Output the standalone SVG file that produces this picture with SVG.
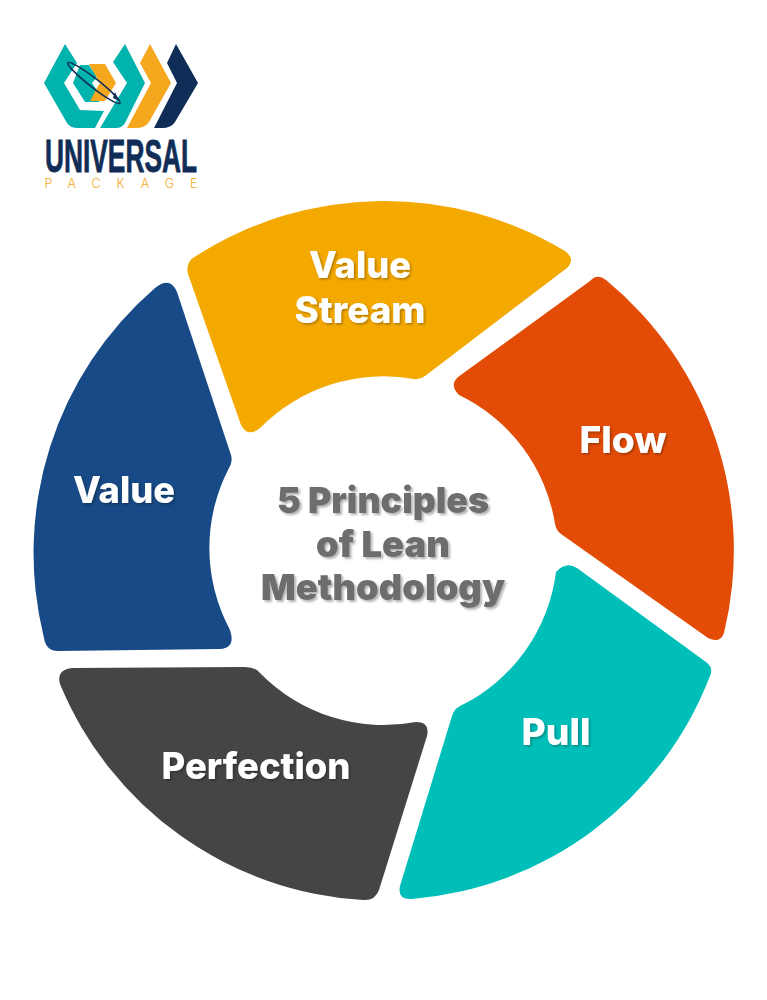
<svg xmlns="http://www.w3.org/2000/svg" width="767" height="1000" viewBox="0 0 767 1000">
<style>
.l{font-family:Inter,"Liberation Sans",sans-serif;font-weight:800;font-size:37px;fill:#fff;text-anchor:middle;filter:url(#s)}
.c{font-family:Inter,"Liberation Sans",sans-serif;font-weight:900;font-size:36px;fill:#6d6d6d;text-anchor:middle;filter:url(#s2)}
.t{fill:#00b3ad}.a{fill:#f5a81e}.n{fill:#0f2d56}
</style>
<defs>
<filter id="s" x="-20%" y="-30%" width="140%" height="160%"><feDropShadow dx="1.5" dy="1.5" stdDeviation="1" flood-color="#000" flood-opacity=".3"/></filter>
<filter id="s2" x="-20%" y="-30%" width="140%" height="160%"><feDropShadow dx="2" dy="2" stdDeviation="1.2" flood-color="#000" flood-opacity=".3"/></filter>
</defs>
<rect width="767" height="1000" fill="#fff"/>
<g id="logo">
<path class="t" d="M65 44 L44 83 L67 123 Q70 128 78 128 L95 128 L104 111 L80 110 L64 83 L77 63Z"/>
<path class="t" d="M125 44 L145 83 L125 123 Q122 128 116 128 L100 128 L127 83 L113 62Z"/>
<path class="t" d="M80 65 L89 65 L97 77 L92 83 L98 92 L99 102 L85 102 L73 83Z"/>
<path class="a" d="M89 64 L105 64 L116 83 L105 101 L90 101 L98 86 L100 83Z"/>
<path class="a" d="M150 44 L171 83 L149 122 Q145 128 136 128 L127 128 L151 83 L140 63Z"/>
<path class="n" d="M176 44 L198 83 L175 122 Q171 128 162 128 L154 128 L177 83 L167 63Z"/>
<ellipse cx="94" cy="83" rx="33" ry="4.5" transform="rotate(38 94 83)" fill="none" stroke="#0f2d56" stroke-width="1.6"/>
<path class="n" d="M115 92 L119 101 L113 98Z"/>
<text x="121" y="172" font-family="Liberation Sans Narrow,Liberation Sans,sans-serif" font-weight="700" font-size="47" fill="#0f2d56" stroke="#0f2d56" stroke-width=".8" text-anchor="middle" textLength="152" lengthAdjust="spacingAndGlyphs">UNIVERSAL</text>
<text x="121" y="188" font-family="Inter,sans-serif" font-weight="300" font-size="12.5" fill="#f5a81e" text-anchor="middle" textLength="153">PACKAGE</text>
</g>
<g id="value-stream">
<path fill="#f4a900" d="M196 256 A350 350 0 0 1 565 251 Q576 259 567 268 L425 376 Q420 380 414 379 A173 173 0 0 0 260 428 Q248 438 241 425 L188 274 Q185 262 196 256Z"/>
<text class="l" x="360" y="278" textLength="102" lengthAdjust="spacingAndGlyphs">Value</text><text class="l" x="360" y="323" textLength="131" lengthAdjust="spacingAndGlyphs">Stream</text>
</g>
<g id="flow">
<path fill="#e34c07" d="M590 281 Q597 273 606 280 A350 350 0 0 1 724 633 Q720 644 708 638 L561 534 Q556 530 555 524 A173 173 0 0 0 459 395 Q449 385 458 377Z"/>
<text class="l" x="623" y="453" textLength="87" lengthAdjust="spacingAndGlyphs">Flow</text>
</g>
<g id="pull">
<path fill="#00bfb8" d="M556 572 Q566 561 577 568 L706 662 Q714 668 710 676 A350 350 0 0 1 412 899 Q397 900 400 886 L452 716 Q454 709 460 706 A173 173 0 0 0 556 572Z"/>
<text class="l" x="556" y="745" textLength="69" lengthAdjust="spacingAndGlyphs">Pull</text>
</g>
<g id="perfection">
<path fill="#454545" d="M72 668 L245 667 Q255 667 260 673 A173 173 0 0 0 416 722 Q430 722 427 736 L379 890 Q375 901 363 900 A350 350 0 0 1 60 684 Q56 670 72 668Z"/>
<text class="l" x="256" y="779" textLength="189" lengthAdjust="spacingAndGlyphs">Perfection</text>
</g>
<g id="value">
<path fill="#174a86" d="M155 288 Q170 276 177 292 L231 455 Q233 462 229 468 A173 173 0 0 0 230 630 Q236 648 220 649 L58 651 Q46 651 44 638 A350 350 0 0 1 155 288Z"/>
<text class="l" x="124" y="503" textLength="102" lengthAdjust="spacingAndGlyphs">Value</text>
</g>
<g id="center">
<text class="c" x="383" y="513" textLength="212" lengthAdjust="spacingAndGlyphs">5 Principles</text>
<text class="c" x="383" y="557" textLength="134" lengthAdjust="spacingAndGlyphs">of Lean</text>
<text class="c" x="383" y="600" textLength="244" lengthAdjust="spacingAndGlyphs">Methodology</text>
</g>
</svg>
